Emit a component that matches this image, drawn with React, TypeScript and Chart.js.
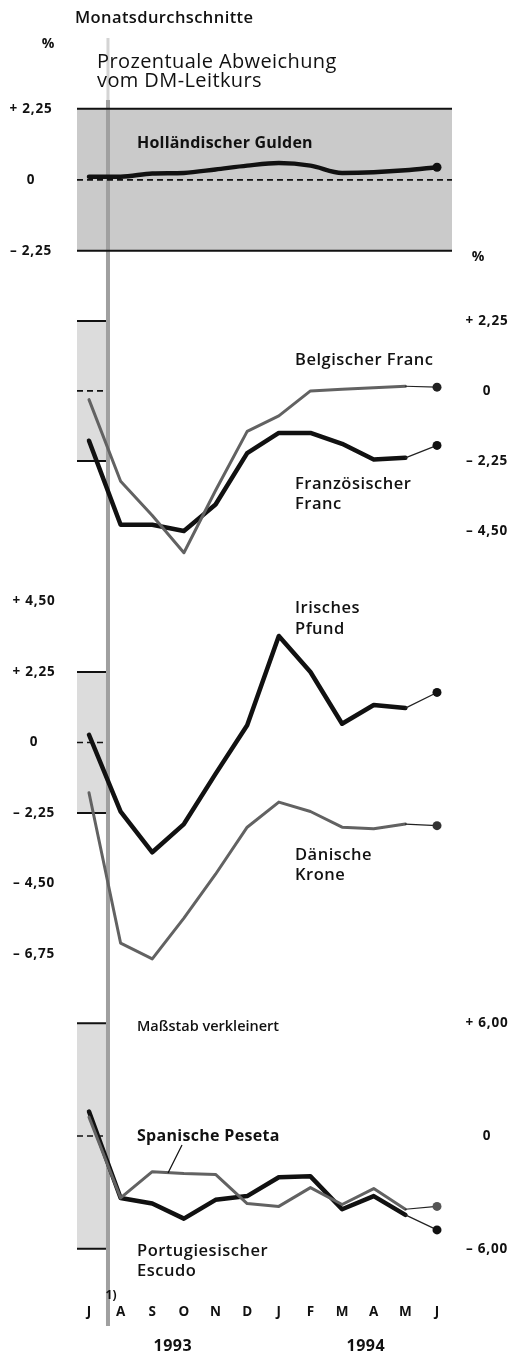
import React, { useEffect, useRef } from 'react';
import { Chart, registerables } from 'chart.js';

Chart.register(...registerables);

// ---------- data ----------
const months = ['J', 'A', 'S', 'O', 'N', 'D', 'J', 'F', 'M', 'A', 'M', 'J'];
const years = ['1993', '1994'];

const gulden = [0.1, 0.1, 0.2, 0.22, 0.33, 0.45, 0.53, 0.45, 0.22, 0.24, 0.3, 0.4];
const belgischerFranc = [-0.28, -2.9, -4.0, -5.2, -3.2, -1.3, -0.8, 0.0, 0.05, 0.1, 0.15, 0.12];
const franzoesischerFranc = [-1.6, -4.3, -4.3, -4.5, -3.65, -2.0, -1.35, -1.35, -1.7, -2.2, -2.15, -1.75];
const irischesPfund = [0.25, -2.2, -3.5, -2.6, -1.0, 0.55, 3.4, 2.25, 0.6, 1.2, 1.1, 1.6];
const daenischeKrone = [-1.6, -6.4, -6.9, -5.6, -4.2, -2.7, -1.9, -2.2, -2.7, -2.75, -2.6, -2.65];
const spanischePeseta = [1.0, -3.3, -1.9, -2.0, -2.05, -3.6, -3.75, -2.75, -3.65, -2.8, -3.9, -3.75];
const portugiesischerEscudo = [1.3, -3.3, -3.6, -4.4, -3.4, -3.2, -2.2, -2.15, -3.9, -3.2, -4.2, -5.0];

const guldenTicks = [2.25, 0, -2.25];
const francTicks = [2.25, 0, -2.25, -4.5];
const pfundTicks = [4.5, 2.25, 0, -2.25, -4.5, -6.75];
const iberTicks = [6, 0, -6];

// ---------- layout ----------
const W = 512;
const H = 1356;
const AREA_LEFT = 77;
const AREA_RIGHT = 452;
const X_FIRST = 89;
const X_LAST = 437;
const PX_PER_MONTH = (X_LAST - X_FIRST) / 11;
const X_MIN = (AREA_LEFT - X_FIRST) / PX_PER_MONTH;
const X_MAX = (AREA_RIGHT - X_FIRST) / PX_PER_MONTH;
const BAR_X = 0.6; // Aug 1993 marker position (in month units)
const YEAR_POS = [2.65, 8.75];

const panels: Record<string, { zero: number; ppu: number }> = {
  y1: { zero: 176.5, ppu: 71.5 / 2.25 },
  y2: { zero: 389, ppu: 70.5 / 2.25 },
  y3: { zero: 743, ppu: 71 / 2.25 },
  y4: { zero: 1139, ppu: 113.5 / 6 },
};

const FONT = '"Open Sans", "Noto Sans", sans-serif';
const BLACK = '#111';
const GRAY_LINE = '#626262';

const fmt = (v: number) =>
  v === 0 ? '0' : (v > 0 ? '+ ' : '\u2013 ') + Math.abs(v).toFixed(2).replace('.', ',');

function yScale(id: string) {
  const p = panels[id];
  return {
    type: 'linear' as const,
    display: false,
    min: (p.zero - H) / p.ppu,
    max: p.zero / p.ppu,
  };
}

function series(
  label: string,
  values: number[],
  yAxisID: string,
  color: string,
  width: number,
  dotColor: string,
  thinLast: boolean,
  tension = 0
) {
  const last = values.length - 1;
  return {
    label,
    data: values.map((v, i) => ({ x: i, y: v })),
    yAxisID,
    xAxisID: 'x',
    borderColor: color,
    borderWidth: width,
    tension,
    cubicInterpolationMode: tension ? ('monotone' as const) : ('default' as const),
    borderJoinStyle: 'round' as const,
    borderCapStyle: 'round' as const,
    pointRadius: values.map((_, i) => (i === last ? 4.5 : 0)),
    pointBackgroundColor: dotColor,
    pointBorderColor: dotColor,
    pointBorderWidth: 0,
    fill: false,
    clip: false as const,
    segment: thinLast
      ? {
          borderWidth: (c: any) => (c.p1DataIndex === last ? 1.2 : width),
          borderColor: (c: any) => (c.p1DataIndex === last ? '#222' : color),
        }
      : undefined,
  };
}

const decorPlugin = {
  id: 'decor',
  beforeDatasetsDraw(chart: any) {
    const { ctx } = chart;
    const x = chart.scales.x;
    const px = (v: number) => x.getPixelForValue(v);
    const py = (id: string, v: number) => chart.scales[id].getPixelForValue(v);
    ctx.save();

    const l = px(X_MIN);
    const r = px(X_MAX);
    const bx = px(BAR_X);
    ctx.fillStyle = '#cacaca';
    ctx.fillRect(l, py('y1', 2.25), r - l, py('y1', -2.25) - py('y1', 2.25));

    const boxes: [string, number][] = [
      ['y2', 2.25],
      ['y3', 2.25],
      ['y4', 6],
    ];
    ctx.fillStyle = '#dcdcdc';
    boxes.forEach(([id, lim]) => {
      ctx.fillRect(l, py(id, lim), bx - 2 - l, py(id, -lim) - py(id, lim));
    });

    // vertical marker bar
    ctx.fillStyle = '#a0a0a0';
    ctx.fillRect(bx - 2, 100, 4, 1326 - 100);
    ctx.fillStyle = '#d4d4d4';
    ctx.fillRect(bx - 1.5, 38, 3, 62);

    // band limit lines
    ctx.strokeStyle = BLACK;
    ctx.lineWidth = 2;
    ctx.beginPath();
    ctx.moveTo(l, py('y1', 2.25));
    ctx.lineTo(r, py('y1', 2.25));
    ctx.moveTo(l, py('y1', -2.25));
    ctx.lineTo(r, py('y1', -2.25));
    boxes.forEach(([id, lim]) => {
      ctx.moveTo(l, py(id, lim));
      ctx.lineTo(bx - 2, py(id, lim));
      ctx.moveTo(l, py(id, -lim));
      ctx.lineTo(bx - 2, py(id, -lim));
    });
    ctx.stroke();

    // dashed zero lines
    ctx.setLineDash([6, 4]);
    ctx.lineWidth = 1.6;
    ctx.beginPath();
    ctx.moveTo(l, py('y1', 0));
    ctx.lineTo(r, py('y1', 0));
    boxes.forEach(([id]) => {
      ctx.moveTo(l, py(id, 0));
      ctx.lineTo(bx - 2, py(id, 0));
    });
    ctx.stroke();
    ctx.setLineDash([]);
    ctx.restore();
  },
  afterDraw(chart: any) {
    const { ctx } = chart;
    const x = chart.scales.x;
    const px = (v: number) => x.getPixelForValue(v);
    const py = (id: string, v: number) => chart.scales[id].getPixelForValue(v);
    ctx.save();
    ctx.fillStyle = BLACK;
    ctx.textBaseline = 'middle';

    const text = (
      s: string,
      tx: number,
      ty: number,
      font: string,
      align: CanvasTextAlign = 'left',
      spacing = 0
    ) => {
      ctx.font = font;
      ctx.textAlign = align;
      (ctx as any).letterSpacing = `${spacing}px`;
      ctx.fillText(s, tx, ty);
    };

    // headings
    text('Monatsdurchschnitte', 75, 18, `600 16.5px ${FONT}`, 'left', 0.4);
    text('%', 48, 44, `700 14px ${FONT}`, 'center');
    text('Prozentuale Abweichung', 97, 62, `500 20px ${FONT}`, 'left', 0.4);
    text('vom DM-Leitkurs', 97, 81, `500 20px ${FONT}`, 'left', 0.4);
    text('%', 478, 257, `700 14px ${FONT}`, 'center');

    // tick labels
    const tickFont = `700 13.5px ${FONT}`;
    guldenTicks.forEach((v) => text(fmt(v), 31, py('y1', v), tickFont, 'center', 0.8));
    francTicks.forEach((v) => text(fmt(v), 487, py('y2', v), tickFont, 'center', 0.8));
    pfundTicks.forEach((v) => text(fmt(v), 34, py('y3', v), tickFont, 'center', 0.8));
    iberTicks.forEach((v) => text(fmt(v), 487, py('y4', v), tickFont, 'center', 0.8));

    // series labels
    const lab = `600 16.5px ${FONT}`;
    const sp = 0.5;
    text('Holländischer Gulden', 137, 143, `700 16px ${FONT}`, 'left', 0.2);
    text('Belgischer Franc', 295, 360, lab, 'left', sp);
    text('Französischer', 295, 484, lab, 'left', sp);
    text('Franc', 295, 504, lab, 'left', sp);
    text('Irisches', 295, 608, lab, 'left', sp);
    text('Pfund', 295, 629, lab, 'left', sp);
    text('Dänische', 295, 855, lab, 'left', sp);
    text('Krone', 295, 875, lab, 'left', sp);
    text('Maßstab verkleinert', 137, 1027, `600 14.5px ${FONT}`, 'left', 0);
    text('Spanische Peseta', 137, 1136, `700 16px ${FONT}`, 'left', 0.3);
    text('Portugiesischer', 137, 1251, lab, 'left', sp);
    text('Escudo', 137, 1271, lab, 'left', sp);

    // leader line to Spanish peseta
    ctx.strokeStyle = BLACK;
    ctx.lineWidth = 1.2;
    ctx.beginPath();
    ctx.moveTo(182, 1145);
    ctx.lineTo(168, 1173);
    ctx.stroke();

    // footnote marker
    text('1)', px(BAR_X) + 3, 1296, `700 12px ${FONT}`, 'center');

    // month labels
    months.forEach((m, i) => text(m, px(i), 1312, `700 13.5px ${FONT}`, 'center'));
    years.forEach((y, i) => text(y, px(YEAR_POS[i]), 1346, `700 16px ${FONT}`, 'center', 0.5));

    ctx.restore();
  },
};

export default function App() {
  const ref = useRef<HTMLCanvasElement | null>(null);

  useEffect(() => {
    if (!ref.current) return;
    const chart = new Chart(ref.current, {
      type: 'line',
      data: {
        datasets: [
          series('Holländischer Gulden', gulden, 'y1', BLACK, 4.5, BLACK, false, 0.4),
          series('Belgischer Franc', belgischerFranc, 'y2', GRAY_LINE, 3, '#222', true),
          series('Französischer Franc', franzoesischerFranc, 'y2', BLACK, 4.5, BLACK, true),
          series('Dänische Krone', daenischeKrone, 'y3', GRAY_LINE, 3, '#333', true),
          series('Irisches Pfund', irischesPfund, 'y3', BLACK, 4.5, BLACK, true),
          series('Spanische Peseta', spanischePeseta, 'y4', GRAY_LINE, 3, '#555', true),
          series('Portugiesischer Escudo', portugiesischerEscudo, 'y4', BLACK, 4.5, BLACK, true),
        ] as any,
      },
      options: {
        animation: false,
        responsive: false,
        events: [],
        layout: { padding: { left: AREA_LEFT, right: W - AREA_RIGHT, top: 0, bottom: 0 } },
        plugins: { legend: { display: false }, tooltip: { enabled: false }, title: { display: false } },
        scales: {
          x: { type: 'linear', display: false, min: X_MIN, max: X_MAX },
          y1: yScale('y1'),
          y2: yScale('y2'),
          y3: yScale('y3'),
          y4: yScale('y4'),
        },
      },
      plugins: [decorPlugin],
    });
    return () => chart.destroy();
  }, []);

  return (
    <div style={{ position: 'absolute', left: 0, top: 0, width: W, height: H, background: '#fff' }}>
      <canvas ref={ref} width={W} height={H} style={{ display: 'block', width: W, height: H }} />
    </div>
  );
}
